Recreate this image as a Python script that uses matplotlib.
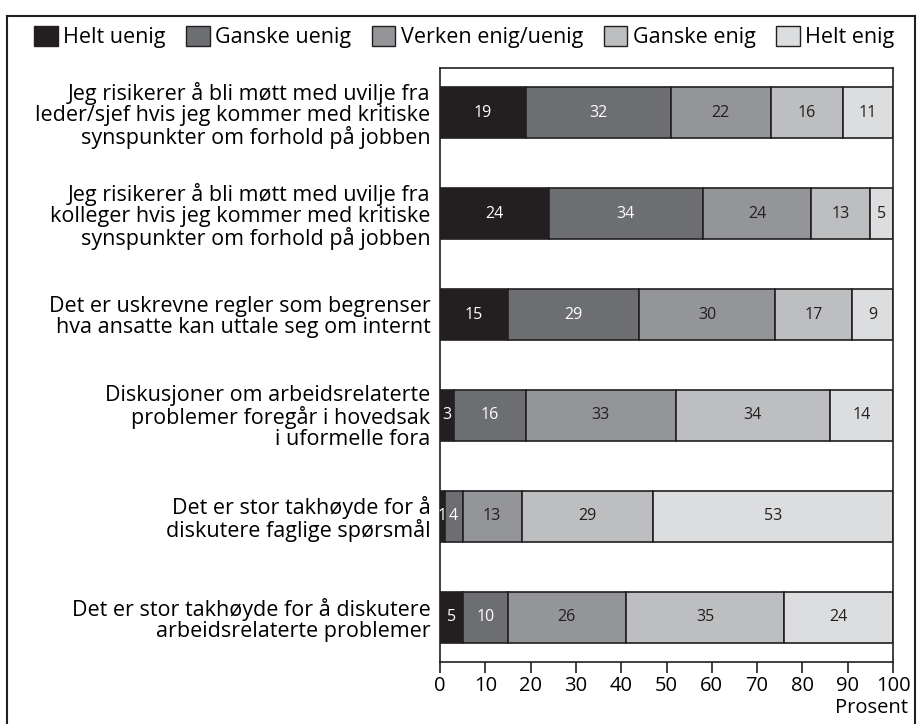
import numpy as np
import matplotlib
matplotlib.use("Agg")
import matplotlib.pyplot as plt
from matplotlib.patches import Patch
from matplotlib.lines import Line2D

plt.rcParams['font.family'] = ['Open Sans', 'DejaVu Sans']

# Data
categories = [
    "Jeg risikerer å bli møtt med uvilje fra\nleder/sjef hvis jeg kommer med kritiske\nsynspunkter om forhold på jobben",
    "Jeg risikerer å bli møtt med uvilje fra\nkolleger hvis jeg kommer med kritiske\nsynspunkter om forhold på jobben",
    "Det er uskrevne regler som begrenser\nhva ansatte kan uttale seg om internt",
    "Diskusjoner om arbeidsrelaterte\nproblemer foregår i hovedsak\ni uformelle fora",
    "Det er stor takhøyde for å\ndiskutere faglige spørsmål",
    "Det er stor takhøyde for å diskutere\narbeidsrelaterte problemer",
]
series_names = ["Helt uenig", "Ganske uenig", "Verken enig/uenig", "Ganske enig", "Helt enig"]
helt_uenig = [19, 24, 15, 3, 1, 5]
ganske_uenig = [32, 34, 29, 16, 4, 10]
verken = [22, 24, 30, 33, 13, 26]
ganske_enig = [16, 13, 17, 34, 29, 35]
helt_enig = [11, 5, 9, 14, 53, 24]
xticks = list(range(0, 101, 10))

series = [helt_uenig, ganske_uenig, verken, ganske_enig, helt_enig]
colors = ["#231f20", "#6d6e71", "#939598", "#bcbec0", "#dcdddf"]
text_colors = ["white", "white", "#231f20", "#231f20", "#231f20"]

fig = plt.figure(figsize=(9.22, 7.24), dpi=100)
ax = fig.add_axes([440 / 922, 1 - 662 / 724, (893 - 440) / 922, (662 - 68) / 724])

y = np.arange(len(categories))
left = np.zeros(len(categories))
for vals, name, col, tcol in zip(series, series_names, colors, text_colors):
    bars = ax.barh(y, vals, left=left, height=0.506, color=col,
                   edgecolor="#231f20", linewidth=1.2, label=name)
    ax.bar_label(bars, labels=[str(v) for v in vals], label_type="center",
                 color=tcol, fontsize=11.5)
    left += np.array(vals)

ax.set_xlim(0, 100)
ax.set_ylim(5.446, -0.446)
ax.set_xticks(xticks)
ax.set_xticklabels([str(t) for t in xticks], fontsize=14.5)
ax.tick_params(axis="x", direction="out", length=8, width=1.2, color="#231f20", pad=2)
ax.set_yticks(y)
ax.set_yticklabels(categories, fontsize=15.5, linespacing=1.0)
ax.tick_params(axis="y", length=0, pad=7)
for sp in ax.spines.values():
    sp.set_linewidth(1.2)
    sp.set_color("#231f20")

ax.annotate("Prosent", xy=(1, 0), xycoords="axes fraction", xytext=(11, -26),
            textcoords="offset points", ha="right", va="top", fontsize=14.5)

handles = [Patch(facecolor=c, edgecolor="#231f20", linewidth=1.0) for c in colors]
fig.legend(handles, series_names, loc="center left", bbox_to_anchor=(34 / 922, 1 - 37 / 724),
           ncol=5, frameon=False, fontsize=15.5, handlelength=1.1, handleheight=1.1,
           handletextpad=0.25, columnspacing=0.95, borderaxespad=0, borderpad=0)

# outer frame
fig.add_artist(Line2D([7 / 922, 7 / 922], [0, 1 - 16 / 724], transform=fig.transFigure,
                      color="#231f20", linewidth=1.5))
fig.add_artist(Line2D([7 / 922, 915 / 922], [1 - 16 / 724, 1 - 16 / 724], transform=fig.transFigure,
                      color="#231f20", linewidth=1.5))
fig.add_artist(Line2D([915 / 922, 915 / 922], [0, 1 - 16 / 724], transform=fig.transFigure,
                      color="#231f20", linewidth=1.5))

fig.savefig("out.png", dpi=100)
